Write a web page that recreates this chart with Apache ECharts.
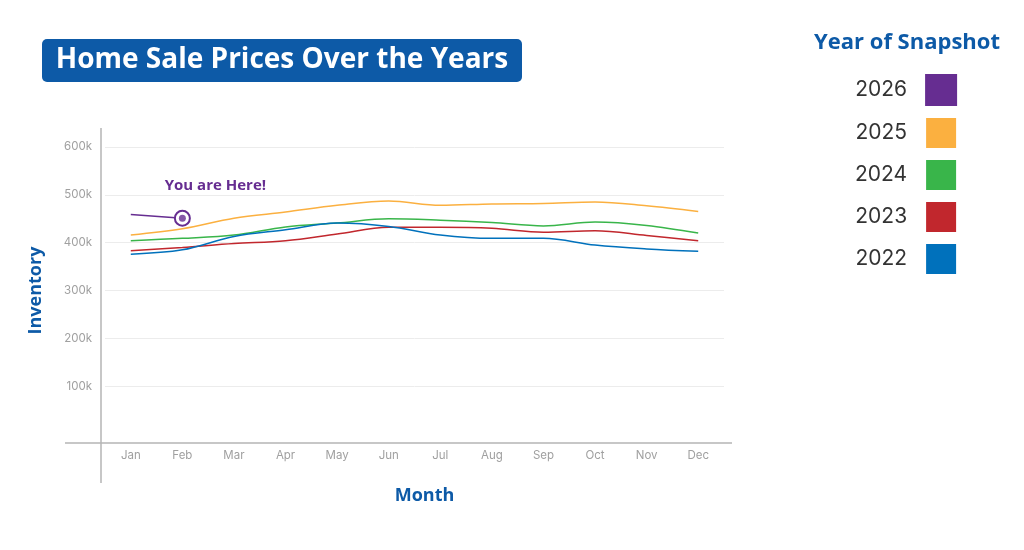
<!DOCTYPE html>
<html>
<head>
<meta charset="utf-8">
<script src="https://cdn.jsdelivr.net/npm/echarts@6/dist/echarts.min.js"></script>
<style>
  html, body { margin: 0; padding: 0; background: #fff; }
  #chart { width: 1024px; height: 550px; }
</style>
</head>
<body>
<div id="chart"></div>
<script>
  // data
  var months = ['Jan', 'Feb', 'Mar', 'Apr', 'May', 'Jun', 'Jul', 'Aug', 'Sep', 'Oct', 'Nov', 'Dec']
  var years = ['2026', '2025', '2024', '2023', '2022']
  var colors = ['#662d91', '#fbb040', '#39b54a', '#c1272d', '#0071bc']

  var y2026 = [459000, 451000]
  var y2025 = [416000, 429000, 451000, 464000, 478000, 487000, 478000, 481000, 482000, 485000, 477000, 465000]
  var y2024 = [404000, 409000, 416000, 433000, 441000, 450000, 447000, 442000, 435000, 443000, 436000, 420000]
  var y2023 = [383000, 390000, 398000, 404000, 418000, 432000, 432000, 430000, 422000, 425000, 415000, 404000]
  var y2022 = [376000, 385000, 413000, 427000, 441000, 434000, 416000, 409000, 409000, 395000, 387000, 382000]

  var hereIndex = 1
  var hereText = 'You are Here!'
  var titleText = 'Home Sale Prices Over the Years'

  var font = 'Inter, Lato, sans-serif'
  var headFont = '"Open Sans", Inter, sans-serif'
  var blue = '#0d5aa7'

  var chart = echarts.init(document.getElementById('chart'))

  function lineSeries(name, vals, color) {
    return {
      name: name,
      type: 'line',
      data: vals,
      smooth: 0.35,
      showSymbol: false,
      symbol: 'none',
      lineStyle: { width: 1.5, color: color },
      itemStyle: { color: color },
      z: 3
    }
  }

  var purpleData = y2026.map(function (v, i) {
    if (i !== hereIndex) return { value: v, symbol: 'none' }
    return {
      value: v,
      symbol: 'emptyCircle',
      symbolSize: 15,
      label: {
        show: true,
        formatter: hereText,
        position: 'top',
        offset: [33, -12],
        color: '#662d91',
        fontFamily: headFont,
        fontWeight: 'bold',
        fontSize: 15
      }
    }
  })

  var series = [
    {
      name: '2026',
      type: 'line',
      data: purpleData,
      smooth: false,
      showSymbol: true,
      symbolSize: 15,
      lineStyle: { width: 1.5, color: colors[0] },
      itemStyle: { color: colors[0], borderColor: colors[0], borderWidth: 1.5 },
      z: 5
    },
    lineSeries('2025', y2025, colors[1]),
    lineSeries('2024', y2024, colors[2]),
    lineSeries('2023', y2023, colors[3]),
    lineSeries('2022', y2022, colors[4]),
    {
      name: 'here',
      type: 'scatter',
      data: [[months[hereIndex], y2026[hereIndex]]],
      symbolSize: 7,
      itemStyle: { color: colors[0] },
      z: 6,
      silent: true
    }
  ]

  var option = {
    animation: false,
    color: colors,
    title: [
      {
        text: 'Year of Snapshot',
        left: 902,
        top: 27,
        textAlign: 'center',
        textStyle: { color: blue, fontFamily: headFont, fontWeight: 'bold', fontSize: 22 }
      }
    ],
    legend: {
      data: years,
      orient: 'vertical',
      left: 855,
      top: 74,
      padding: 0,
      align: 'right',
      icon: 'rect',
      itemWidth: 30,
      itemHeight: 30,
      itemGap: 12,
      selectedMode: false,
      textStyle: { color: '#333', fontFamily: font, fontSize: 21, padding: [0, 14, 0, 0] }
    },
    grid: { left: 105, right: 300, top: 147, bottom: 116 },
    xAxis: {
      type: 'category',
      data: months,
      boundaryGap: true,
      name: 'Month',
      nameLocation: 'middle',
      nameGap: 53,
      nameTextStyle: { color: blue, fontFamily: headFont, fontWeight: 'bold', fontSize: 18, padding: [0, 0, 0, 20] },
      axisLine: { show: false },
      axisTick: { show: false },
      axisLabel: { color: '#a0a0a0', fontFamily: font, fontSize: 11.5, margin: 16 }
    },
    yAxis: {
      type: 'value',
      min: 0,
      max: 600000,
      interval: 100000,
      name: 'Inventory',
      nameLocation: 'middle',
      nameGap: 60,
      nameRotate: 90,
      nameTextStyle: { color: blue, fontFamily: headFont, fontWeight: 'bold', fontSize: 18 },
      axisLine: { show: false },
      axisTick: { show: false },
      axisLabel: {
        color: '#a0a0a0',
        fontFamily: font,
        fontSize: 11.5,
        margin: 13,
        showMinLabel: false,
        formatter: function (v) { return v / 1000 + 'k' }
      },
      splitLine: { show: true, showMinLine: false, lineStyle: { color: '#ececec', width: 1 } }
    },
    graphic: [
      {
        type: 'group',
        left: 42,
        top: 39,
        children: [
          { type: 'rect', shape: { x: 0, y: 0, width: 480, height: 43, r: 5 }, style: { fill: blue } },
          {
            type: 'text',
            x: 240,
            y: 21.5,
            style: {
              text: titleText,
              fill: '#fff',
              font: 'bold 28px ' + headFont,
              textAlign: 'center',
              textVerticalAlign: 'middle'
            }
          }
        ]
      },
      { type: 'line', shape: { x1: 101, y1: 128, x2: 101, y2: 483 }, style: { stroke: '#b5b5b5', lineWidth: 1.5 }, z: 10 },
      { type: 'line', shape: { x1: 65, y1: 443, x2: 732, y2: 443 }, style: { stroke: '#b5b5b5', lineWidth: 1.5 }, z: 10 }
    ],
    series: series
  }

  chart.setOption(option)
</script>
</body>
</html>
